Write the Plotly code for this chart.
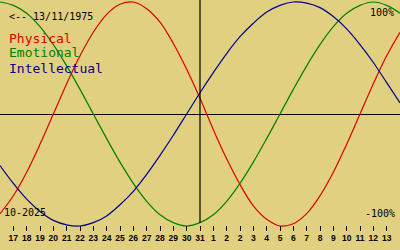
import plotly.graph_objects as go

# ---- data ----
day_index = list(range(-1, 30))          # day positions (0 = 17 Oct)
tick_positions = list(range(0, 29))
tick_labels = ["17", "18", "19", "20", "21", "22", "23", "24", "25", "26", "27",
               "28", "29", "30", "31", "1", "2", "2", "3", "4", "5", "6", "7",
               "8", "9", "10", "11", "12", "13"]
today_index = 14                          # 31 Oct

physical = [-0.89, -0.73, -0.52, -0.27, 0.00, 0.27, 0.52, 0.73, 0.89, 0.98, 1.00,
            0.94, 0.82, 0.63, 0.40, 0.14, -0.14, -0.40, -0.63, -0.82, -0.94, -1.00,
            -0.98, -0.89, -0.73, -0.52, -0.27, 0.00, 0.27, 0.52, 0.73]
emotional = [1.00, 0.97, 0.90, 0.78, 0.62, 0.43, 0.22, 0.00, -0.22, -0.43, -0.62,
             -0.78, -0.90, -0.97, -1.00, -0.97, -0.90, -0.78, -0.62, -0.43, -0.22,
             0.00, 0.22, 0.43, 0.62, 0.78, 0.90, 0.97, 1.00, 0.97, 0.90]
intellectual = [-0.46, -0.62, -0.76, -0.87, -0.95, -0.99, -1.00, -0.97, -0.91, -0.81,
                -0.69, -0.54, -0.37, -0.19, 0.00, 0.19, 0.37, 0.54, 0.69, 0.81, 0.91,
                0.97, 1.00, 0.99, 0.95, 0.87, 0.76, 0.62, 0.46, 0.28, 0.10]

series_names = ["Physical", "Emotional", "Intellectual"]
series_values = [physical, emotional, intellectual]
series_colors = ["#dd0000", "#008000", "#000090"]

BG = "#e0d080"
MONO = "DejaVu Sans Mono, Liberation Mono, monospace"

fig = go.Figure()
for name, vals, col in zip(series_names, series_values, series_colors):
    fig.add_trace(go.Scatter(x=day_index, y=vals, mode="lines", name=name,
                             line=dict(color=col, width=1.2, shape="spline"),
                             hoverinfo="skip"))

# vertical "today" line
fig.add_shape(type="line", xref="x", yref="paper", x0=today_index, x1=today_index,
              y0=0.108, y1=1.0, line=dict(color="black", width=1.2))

annots = [
    dict(text="<-- 13/11/1975", x=0.022, y=0.933, xanchor="left", color="black", size=10),
    dict(text="Physical", x=0.022, y=0.848, xanchor="left", color=series_colors[0], size=13),
    dict(text="Emotional", x=0.022, y=0.789, xanchor="left", color=series_colors[1], size=13),
    dict(text="Intellectual", x=0.022, y=0.728, xanchor="left", color=series_colors[2], size=13),
    dict(text="100%", x=0.985, y=0.949, xanchor="right", color="black", size=10),
    dict(text="-100%", x=0.988, y=0.148, xanchor="right", color="black", size=10),
    dict(text="10-2025", x=0.010, y=0.152, xanchor="left", color="black", size=10),
]
for a in annots:
    fig.add_annotation(text=a["text"], x=a["x"], y=a["y"], xref="paper", yref="paper",
                       xanchor=a["xanchor"], yanchor="middle", showarrow=False,
                       borderpad=0, borderwidth=0,
                       font=dict(family=MONO, size=a["size"], color=a["color"]))

fig.update_layout(
    width=400, height=250, margin=dict(l=0, r=0, t=0, b=0),
    paper_bgcolor=BG, plot_bgcolor=BG, showlegend=False,
    xaxis=dict(range=[-1, 29], anchor="free", position=0.1,
               tickmode="array", tickvals=tick_positions, ticktext=tick_labels,
               ticks="outside", ticklen=5, tickwidth=1, tickcolor="black",
               showgrid=False, zeroline=False, showline=False,
               tickfont=dict(family="Liberation Sans, Arial, sans-serif", size=8.5,
                             color="black", weight="bold"),
               ticklabelstandoff=0, fixedrange=True),
    yaxis=dict(range=[-136 / 112, 114 / 112], showgrid=False, showticklabels=False,
               ticks="", showline=False, zeroline=True, zerolinecolor="black",
               zerolinewidth=1, fixedrange=True),
)

fig.write_html("out.html", config={"displayModeBar": False})
